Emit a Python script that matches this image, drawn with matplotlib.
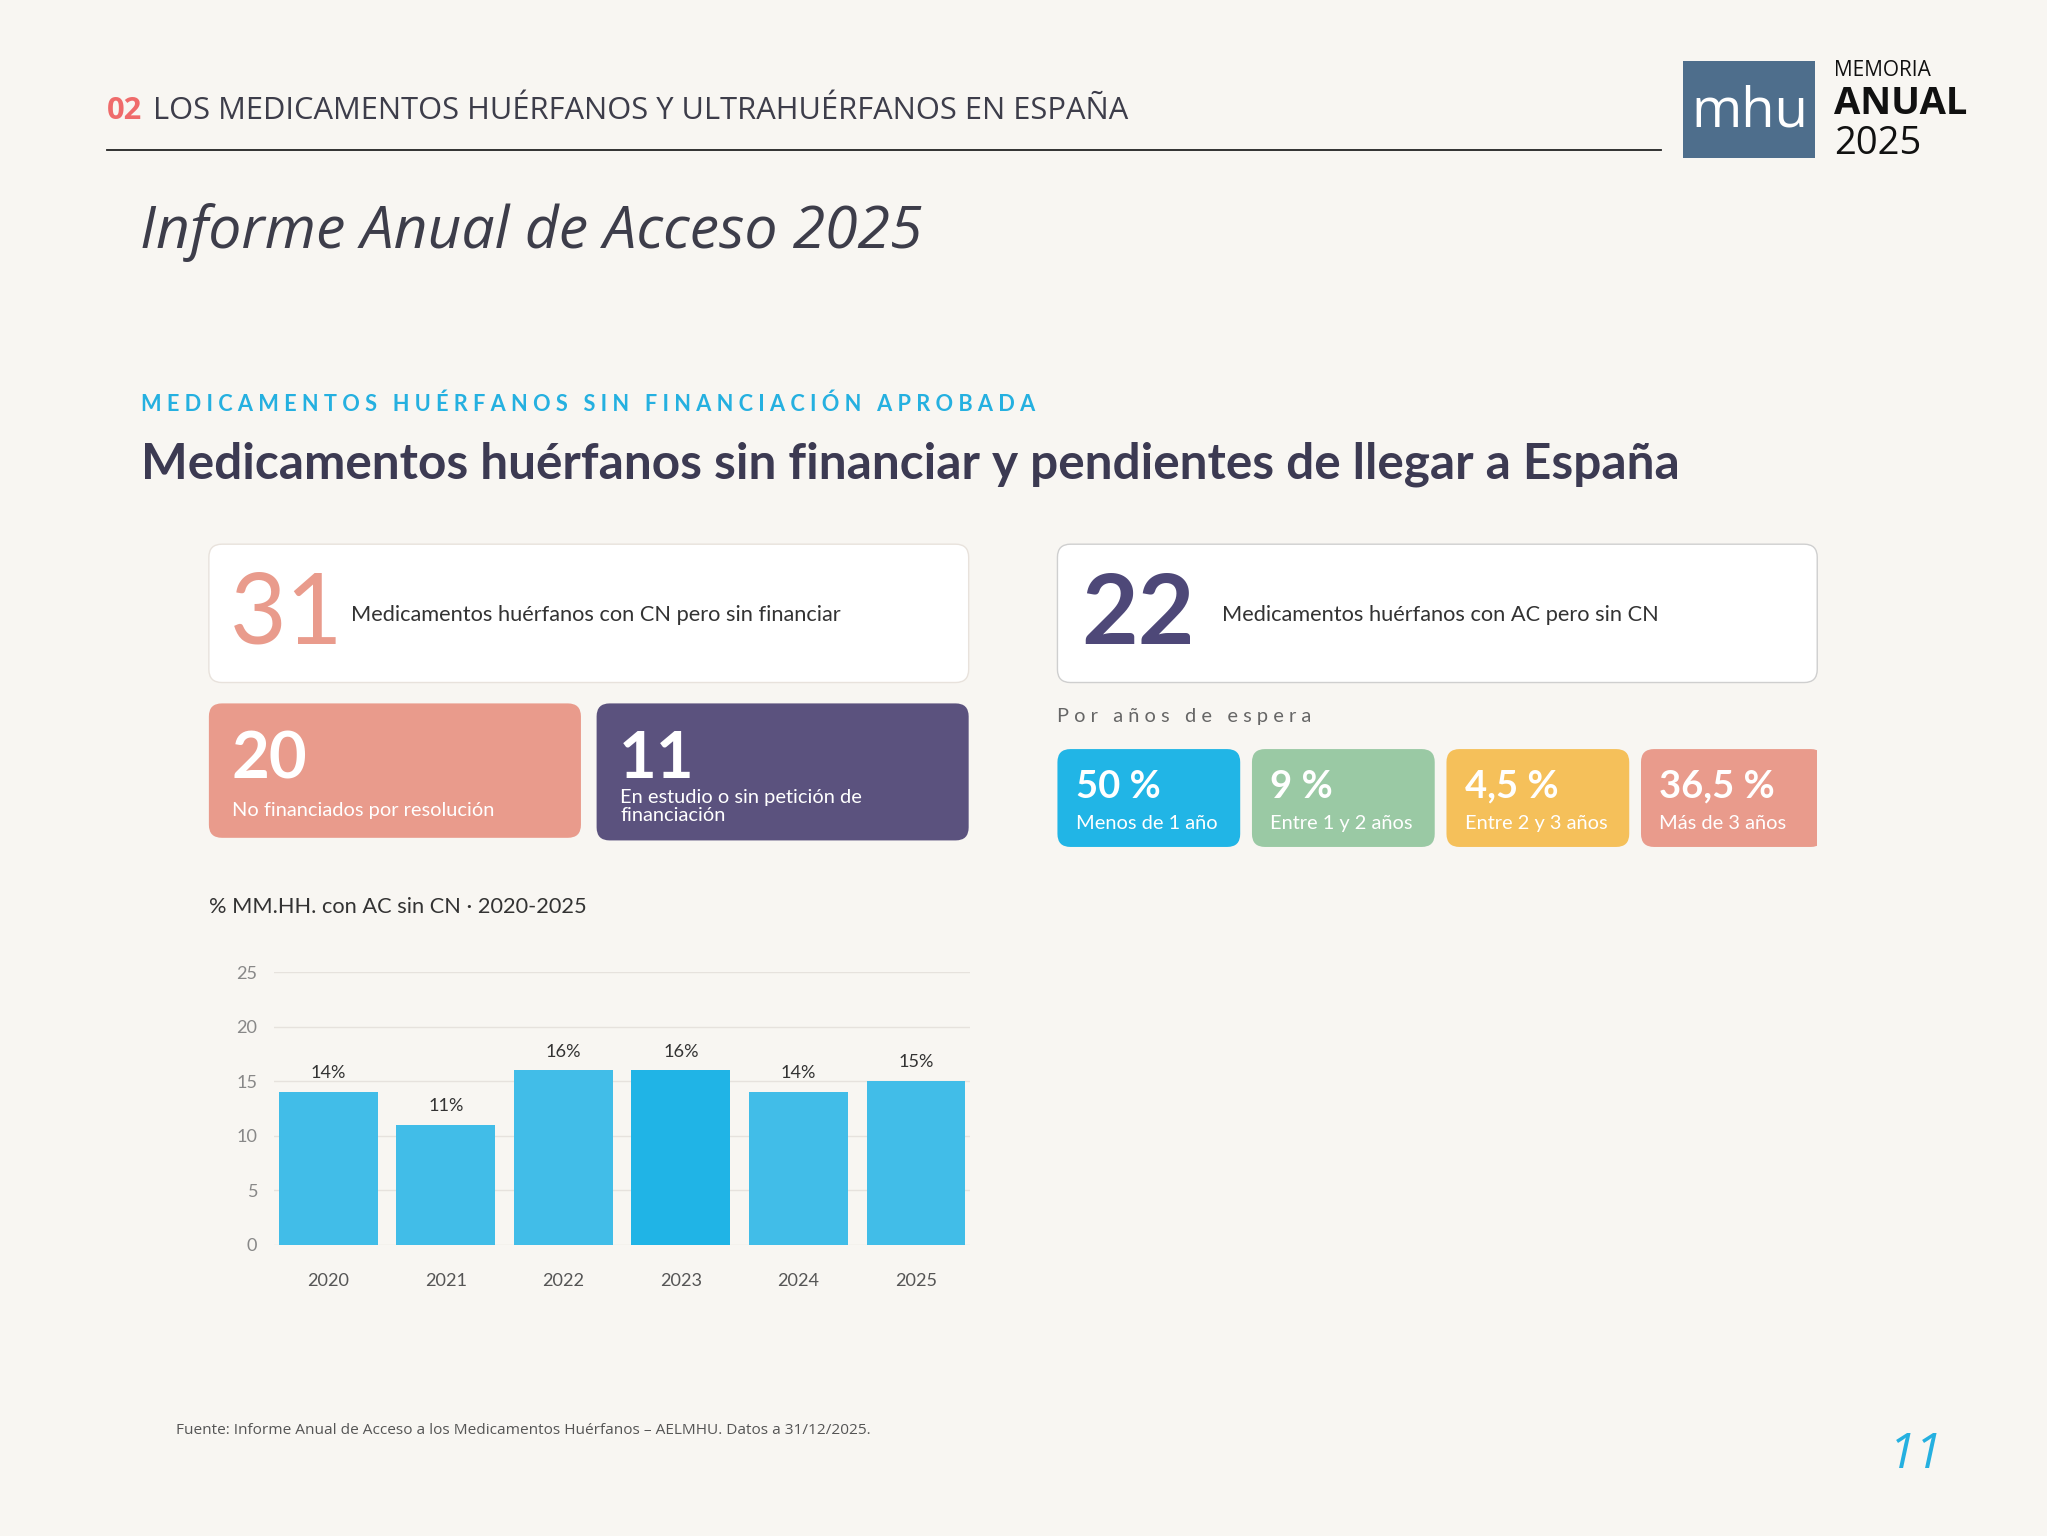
import matplotlib
matplotlib.use("Agg")
import matplotlib.pyplot as plt
from matplotlib.patches import FancyBboxPatch, Rectangle

years = ["2020", "2021", "2022", "2023", "2024", "2025"]
pct = [14, 11, 16, 16, 14, 15]
bar_labels = ["14%", "11%", "16%", "16%", "14%", "15%"]
yticks = [0, 5, 10, 15, 20, 25]
wait_vals = ["50 %", "9 %", "4,5 %", "36,5 %"]
wait_labels = ["Menos de 1 año", "Entre 1 y 2 años", "Entre 2 y 3 años", "Más de 3 años"]
wait_colors = ["#21b5e6", "#9ac9a4", "#f5c05a", "#e99b8c"]

BG = "#f8f6f2"
W, H = 1568, 1177
fig = plt.figure(figsize=(20.47, 15.36), dpi=100, facecolor=BG)
ax = fig.add_axes([0, 0, 1, 1])
ax.set_xlim(0, W); ax.set_ylim(H, 0); ax.axis("off")
ax.set_facecolor(BG)
S = 1.3055

def t(x, y, s, size, **kw):
    kw.setdefault("family", "Open Sans")
    ax.text(x, y, s, fontsize=size * S, **kw)

def box(x, y, w, h, fc, ec="none", r=10):
    p = FancyBboxPatch((x + r, y + r), w - 2 * r, h - 2 * r,
                       boxstyle=f"round,pad={r}", fc=fc, ec=ec, lw=1)
    ax.add_patch(p)
    return p

# header
t(82, 85, "02", 17, color="#ef6b6b", va="center", weight="bold")
t(117, 85, "LOS MEDICAMENTOS HUÉRFANOS Y ULTRAHUÉRFANOS EN ESPAÑA", 17, color="#3d3d4a", va="center")
ax.plot([82, 1272], [115, 115], color="#222", lw=1.3)
ax.add_patch(Rectangle((1289, 47), 101, 74, fc="#4e6e8c", ec="none"))
t(1340, 86, "mhu", 30, color="white", ha="center", va="center")
t(1405, 54, "MEMORIA", 11.5, color="#111", va="center")
t(1405, 80, "ANUAL", 21, color="#111", va="center", weight="bold")
t(1405, 110, "2025", 21, color="#111", va="center")
t(107, 178, "Informe Anual de Acceso 2025", 32.5, color="#3d3d4a", va="center", style="italic")

t(108, 310, "M E D I C A M E N T O S   H U É R F A N O S   S I N   F I N A N C I A C I Ó N   A P R O B A D A",
  12, color="#25b0e0", va="center", weight="bold", family="Lato")
t(108, 356, "Medicamentos huérfanos sin financiar y pendientes de llegar a España", 27.3,
  color="#3c3a52", va="center", weight="bold", family="Lato")

# KPI cards
box(160, 417, 582, 106, "white", ec="#e8e2dc")
t(176, 472, "31", 54, color="#e99b8c", va="center", family="Lato")
t(269, 471, "Medicamentos huérfanos con CN pero sin financiar", 12, color="#333", va="center", family="Lato")
box(810, 417, 582, 106, "white", ec="#cfcfcf")
t(828, 472, "22", 54, color="#4e4878", va="center", family="Lato", weight="bold")
t(936, 471, "Medicamentos huérfanos con AC pero sin CN", 12, color="#333", va="center", family="Lato")

box(160, 539, 285, 103, "#e99b8c")
t(177, 582, "20", 36, color="white", va="center", family="Lato", weight="bold")
t(178, 621, "No financiados por resolución", 11, color="white", va="center", family="Lato")
box(457, 539, 285, 105, "#5b527e")
t(474, 582, "11", 36, color="white", va="center", family="Lato", weight="bold")
t(475, 618, "En estudio o sin petición de\nfinanciación", 11, color="white", va="center", family="Lato", linespacing=1.05)

t(810, 549, "P o r   a ñ o s   d e   e s p e r a", 11, color="#666", va="center", family="Lato")
clip = Rectangle((0, 0), 1392, H, transform=ax.transData)
for i, (v, l, c) in enumerate(zip(wait_vals, wait_labels, wait_colors)):
    x0 = 810 + i * 149
    p = box(x0, 574, 140, 75, c)
    p.set_clip_path(clip)
    t(x0 + 14, 603, v, 21, color="white", va="center", family="Lato", weight="bold")
    t(x0 + 14, 631, l, 11, color="white", va="center", family="Lato")

t(160, 695, "% MM.HH. con AC sin CN · 2020-2025", 12, color="#333", va="center", family="Lato")
t(135, 1096, "Fuente: Informe Anual de Acceso a los Medicamentos Huérfanos – AELMHU. Datos a 31/12/2025.",
  8.5, color="#555", va="center")
t(1488, 1115, "11", 27, color="#25b0e0", va="center", ha="right", style="italic")

# bar chart
bx = fig.add_axes([210 / W, 1 - 954 / H, (743 - 210) / W, (954 - 745) / H])
bx.set_facecolor("none")
cols = ["#41bde8"] * 6
cols[3] = "#20b4e6"
xs = range(len(years))
bx.bar(xs, pct, width=0.84, color=cols, zorder=3)
for xi, v, lab in zip(xs, pct, bar_labels):
    bx.text(xi, v + 1, lab, ha="center", va="bottom", fontsize=10 * S, color="#333", family="Lato")
bx.set_xlim(-0.46, 5.46); bx.set_ylim(0, 25)
bx.set_yticks(yticks)
bx.set_xticks(list(xs)); bx.set_xticklabels(years)
bx.grid(axis="y", color="#e6e2dd", lw=1, zorder=0)
for s in bx.spines.values():
    s.set_visible(False)
bx.tick_params(length=0, labelsize=10 * S, colors="#555")
bx.tick_params(axis="x", pad=20)
bx.tick_params(axis="y", pad=12, colors="#888")
for lab in bx.get_xticklabels() + bx.get_yticklabels():
    lab.set_family("Lato")

fig.savefig("out.png", dpi=100, facecolor=BG)
